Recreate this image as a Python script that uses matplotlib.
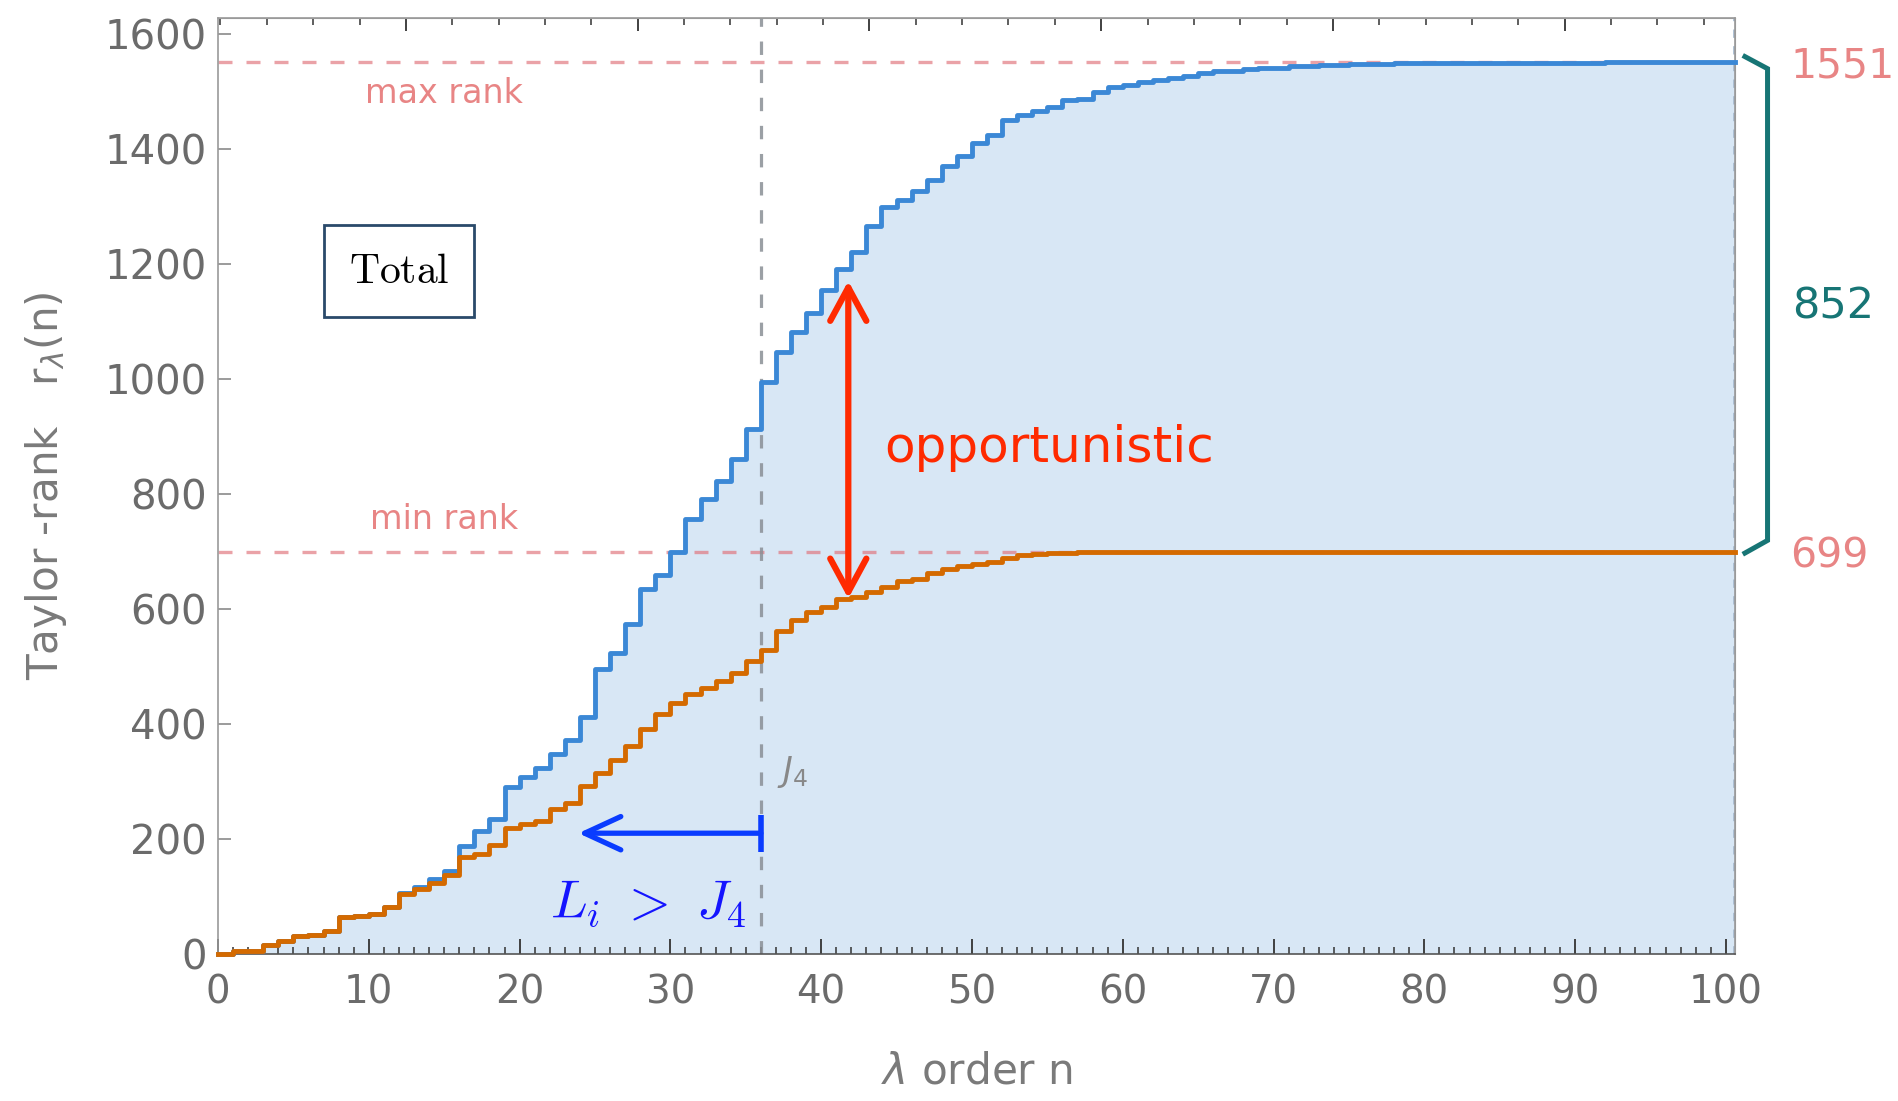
import numpy as np
import matplotlib
matplotlib.use("Agg")
import matplotlib.pyplot as plt
from matplotlib import font_manager
from matplotlib.patches import ArrowStyle
from matplotlib.ticker import MultipleLocator, NullFormatter

# Taylor-rank per lambda order n (step values, held on [n, n+1))
n_order = np.arange(101)

rank_total = np.array([
    0, 6, 6, 16, 23, 31, 33, 40, 64, 66,
    69, 82, 106, 116, 130, 145, 187, 213, 234, 290,
    307, 323, 348, 372, 412, 495, 524, 573, 634, 659,
    698, 756, 791, 823, 861, 912, 995, 1047, 1082, 1114,
    1154, 1190, 1221, 1266, 1298, 1311, 1327, 1346, 1370, 1387,
    1410, 1423, 1449, 1458, 1466, 1473, 1484, 1487, 1499, 1507,
    1511, 1516, 1519, 1523, 1527, 1531, 1535, 1535, 1538, 1540,
    1540, 1543, 1543, 1545, 1545, 1547, 1547, 1547, 1549, 1549,
    1549, 1549, 1549, 1549, 1549, 1549, 1549, 1549, 1549, 1549,
    1549, 1549, 1550, 1550, 1551, 1551, 1551, 1551, 1551, 1551,
    1551])

rank_min = np.array([
    0, 6, 6, 16, 23, 31, 33, 40, 64, 66,
    69, 82, 105, 113, 123, 137, 169, 174, 190, 219,
    226, 232, 252, 262, 292, 315, 337, 362, 391, 417,
    436, 452, 462, 475, 488, 509, 529, 561, 580, 595,
    604, 618, 621, 630, 638, 649, 652, 662, 669, 675,
    678, 682, 688, 694, 695, 697, 697, 698, 698, 699] + [699] * 41)

J4 = 36
x_end = 100.6
arrow_n = 41.8       # where the opportunistic gap is marked
bound_tip = 23.9     # left end of the L_i > J_4 arrow
bound_y = 210

# top frame ticks (secondary scale)
top_scale, top_shift = 3.074, 2.91

names = {f.name for f in font_manager.fontManager.ttflist}
NARROW = 'Liberation Sans Narrow' if 'Liberation Sans Narrow' in names else 'DejaVu Sans'
nk = 1.0 if NARROW != 'DejaVu Sans' else 0.82

GRAY_TXT = '#6b6b6b'
SALMON = '#e88585'
TEAL = '#177575'

fig = plt.figure(figsize=(18.99, 11.01), dpi=100)
ax = fig.add_axes([0.1148, 0.1335, 0.7988, 0.8501])

x_steps = np.append(n_order, x_end)
top_vals = np.append(rank_total, rank_total[-1])
low_vals = np.append(rank_min, rank_min[-1])

ax.fill_between(x_steps, top_vals, step='post', color='#d8e7f5', lw=0, zorder=1)

# max / min rank guides
hi, lo = rank_total[-1], rank_min[-1]
for yv in (hi, lo):
    ax.axhline(yv, color='#e07078', alpha=0.65, lw=2.4,
               linestyle=(0, (4.2, 4.2)), zorder=2)
ax.axvline(J4, color='#8a8f96', alpha=0.85, lw=2.3,
           linestyle=(0, (4.2, 4.6)), zorder=2)
ax.axvline(x_end - 0.08, color='#a8bcd0', lw=2.0,
           linestyle=(0, (3, 3)), zorder=2)

ax.step(x_steps, top_vals, where='post', color='#3b88d6', lw=3.5,
        zorder=4, clip_on=False)
ax.step(x_steps, low_vals, where='post', color='#d46a00', lw=3.5,
        zorder=5, clip_on=False)

ax.set_xlim(0, x_end)
ax.set_ylim(0, 1627)

# frame and ticks
for side in ('left', 'top', 'right'):
    ax.spines[side].set_color('#9a9a9a')
    ax.spines[side].set_linewidth(1.2)
ax.spines['bottom'].set_color('#555555')
ax.spines['bottom'].set_linewidth(1.2)

ax.xaxis.set_major_locator(MultipleLocator(10))
ax.xaxis.set_minor_locator(MultipleLocator(1))
ax.yaxis.set_major_locator(MultipleLocator(200))
ax.tick_params(axis='x', which='major', direction='in', length=11, width=1.3,
               color='#333333', labelsize=34 * nk, labelcolor=GRAY_TXT, pad=14,
               top=False)
ax.tick_params(axis='x', which='minor', direction='in', length=5, width=1.1,
               color='#333333', top=False)
ax.tick_params(axis='y', which='major', direction='in', length=9, width=1.2,
               color='#8a8a8a', labelsize=29, labelcolor=GRAY_TXT, pad=8,
               right=False)
for lab in ax.get_xticklabels():
    lab.set_fontfamily(NARROW)

top = ax.secondary_xaxis('top', functions=(lambda n: (n + top_shift) / top_scale,
                                           lambda v: v * top_scale - top_shift))
top.xaxis.set_major_locator(MultipleLocator(5))
top.xaxis.set_minor_locator(MultipleLocator(1))
top.xaxis.set_major_formatter(NullFormatter())
top.tick_params(which='major', direction='in', length=9, width=1.3, color='#333333')
top.tick_params(which='minor', direction='in', length=5, width=1.1, color='#333333')
top.spines['top'].set_color('#9a9a9a')

right = ax.secondary_yaxis('right')
right.set_yticks([lo, hi])
right.set_yticklabels([str(lo), str(hi)])
right.tick_params(direction='in', length=8, width=1.3, color='#777777',
                  labelcolor=SALMON, labelsize=36 * nk, pad=40)
right.spines['right'].set_color('#9a9a9a')
for lab in right.get_yticklabels():
    lab.set_fontfamily(NARROW)

ax.set_xlabel(r'$\lambda$ order n', fontsize=37 * nk, color='#7a7a7a',
              family=NARROW)
ax.xaxis.set_label_coords(0.5, -0.103)
ax.set_ylabel(r'Taylor -rank   r$_{\lambda}$(n)', fontsize=37 * nk,
              color='#7a7a7a', family=NARROW)
ax.yaxis.set_label_coords(-0.098, 0.5)

# annotations
ax.text(15, 1495, 'max rank', color=SALMON, fontsize=24, ha='center', va='center')
ax.text(15, 756, 'min rank', color=SALMON, fontsize=24, ha='center', va='center')
ax.text(J4 + 1.1, 316, r'$J_4$', color='#888888', fontsize=24, ha='left', va='center')

ax.text(12, 1187, r'$\mathrm{Total}$', math_fontfamily='cm', fontsize=30,
        ha='center', va='center', color='black', zorder=6,
        bbox=dict(boxstyle='square,pad=0.6', fc='white', ec='#2a4a6a', lw=2.0))

ax.annotate('', xy=(arrow_n, rank_total[41] - 20), xytext=(arrow_n, rank_min[42] - 3),
            arrowprops=dict(arrowstyle=ArrowStyle('<->', head_length=2.4, head_width=1.3),
                            color='#ff2a00', lw=4.5, shrinkA=0, shrinkB=0,
                            mutation_scale=10), zorder=7)
ax.text(44.2, 880, 'opportunistic', color='#ff2a00', fontsize=36,
        ha='left', va='center')

ax.annotate('', xy=(bound_tip, bound_y), xytext=(J4, bound_y),
            arrowprops=dict(arrowstyle=ArrowStyle('->', head_length=2.6, head_width=1.2),
                            color='#0a3cff', lw=3.8, shrinkA=0, shrinkB=0,
                            mutation_scale=10), zorder=7)
ax.plot([J4, J4], [bound_y - 32, bound_y + 32], color='#0a3cff', lw=4.0,
        solid_capstyle='butt', zorder=7)
ax.text(28.5, 88, r'$L_i\ >\ J_4$', math_fontfamily='cm', color='#1414ff',
        fontsize=39, ha='center', va='center', zorder=7)

# brace marking the gap between the two ranks
yt = ax.get_yaxis_transform()
ax.plot([1.0066, 1.0215, 1.0215, 1.0066], [hi + 9, hi - 12, lo + 20, lo - 2],
        color=TEAL, lw=3.6, transform=yt, clip_on=False, solid_joinstyle='miter')
ax.text(1.0376, (hi + lo) / 2, str(hi - lo), color=TEAL, fontsize=31,
        transform=yt, ha='left', va='center')

fig.savefig('out.png', dpi=100)
